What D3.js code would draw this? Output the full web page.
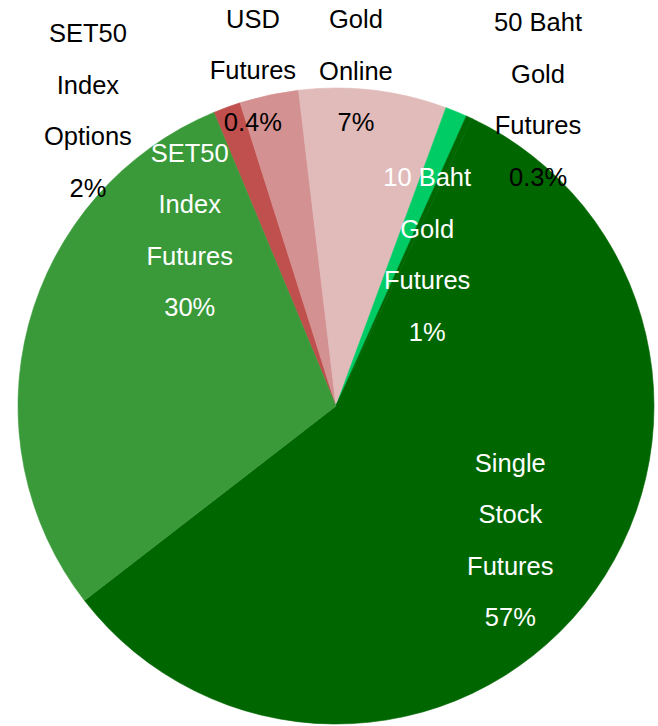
<!DOCTYPE html>
<html>
<head>
<meta charset="utf-8">
<script src="https://cdn.jsdelivr.net/npm/d3@7"></script>
<style>
  body { margin: 0; background: #fff; }
  svg { display: block; }
</style>
</head>
<body>
<div id="chart"></div>
<script>
// slices, clockwise from the top-left edge of the red slice
const categories = ["SET50 Index Options", "USD Futures", "Gold Online", "10 Baht Gold Futures",
                    "50 Baht Gold Futures", "Single Stock Futures", "SET50 Index Futures"];
const shares = [1.4, 3.0, 7.5, 1.1, 0.3, 57.5, 29.2];
const pctLabels = ["2%", "0.4%", "7%", "1%", "0.3%", "57%", "30%"];
const colors = ["#c0504d", "#d49191", "#e1baba", "#00cc66", "#006600", "#006600", "#3a9a3a"];

// label block placement (angle in degrees, distance from centre) and text colour
const labelPos = [
    {a: -40.0, r: 386, fill: "#000"},
    {a: -13.9, r: 346, fill: "#000"},
    {a: 3.4,   r: 336, fill: "#000"},
    {a: 31.0,  r: 177, fill: "#fff"},
    {a: 33.4,  r: 367, fill: "#000"},
    {a: 127.6, r: 220, fill: "#fff"},
    {a: -39.7, r: 229, fill: "#fff"}
];
const labelLines = [
    ["SET50", "Index", "Options"],
    ["USD", "Futures"],
    ["Gold", "Online"],
    ["10 Baht", "Gold", "Futures"],
    ["50 Baht", "Gold", "Futures"],
    ["Single", "Stock", "Futures"],
    ["SET50", "Index", "Futures"]
];

const width = 658, height = 726;
const cx = 336, cy = 406, radius = 318;
const startDeg = -22.6;
const lineH = 51.5;

const svg = d3.select("#chart")
    .append("svg")
        .attr("width", width)
        .attr("height", height)
    .append("g")
        .attr("transform", "translate(" + cx + "," + cy + ")");

const pie = d3.pie()
    .sort(null)
    .value(function(d) { return d; })
    .startAngle(startDeg * Math.PI / 180)
    .endAngle((startDeg + 360) * Math.PI / 180);

const arc = d3.arc().innerRadius(0).outerRadius(radius);

const arcs = pie(shares);

// stroke in the slice colour hides the hairline seams between slices
svg.selectAll("path")
    .data(arcs)
    .enter()
    .append("path")
        .attr("d", arc)
        .attr("fill", function(d, i) { return colors[i]; })
        .attr("stroke", function(d, i) { return colors[i]; })
        .attr("stroke-width", 0.6)
        .attr("stroke-linejoin", "round");

// labels
categories.forEach(function(c, i) {
    const lines = labelLines[i].concat([pctLabels[i]]);
    const p = labelPos[i];
    const a = p.a * Math.PI / 180;
    const x = Math.sin(a) * p.r;
    const y = -Math.cos(a) * p.r;
    const n = lines.length;
    const t = svg.append("text")
        .attr("text-anchor", "middle")
        .attr("font-family", "Liberation Sans, Arial, sans-serif")
        .attr("font-size", 25.5)
        .attr("fill", p.fill);
    lines.forEach(function(l, j) {
        t.append("tspan")
            .attr("x", x)
            .attr("y", y + (j - (n - 1) / 2) * lineH + 9)
            .text(l);
    });
});
</script>
</body>
</html>
